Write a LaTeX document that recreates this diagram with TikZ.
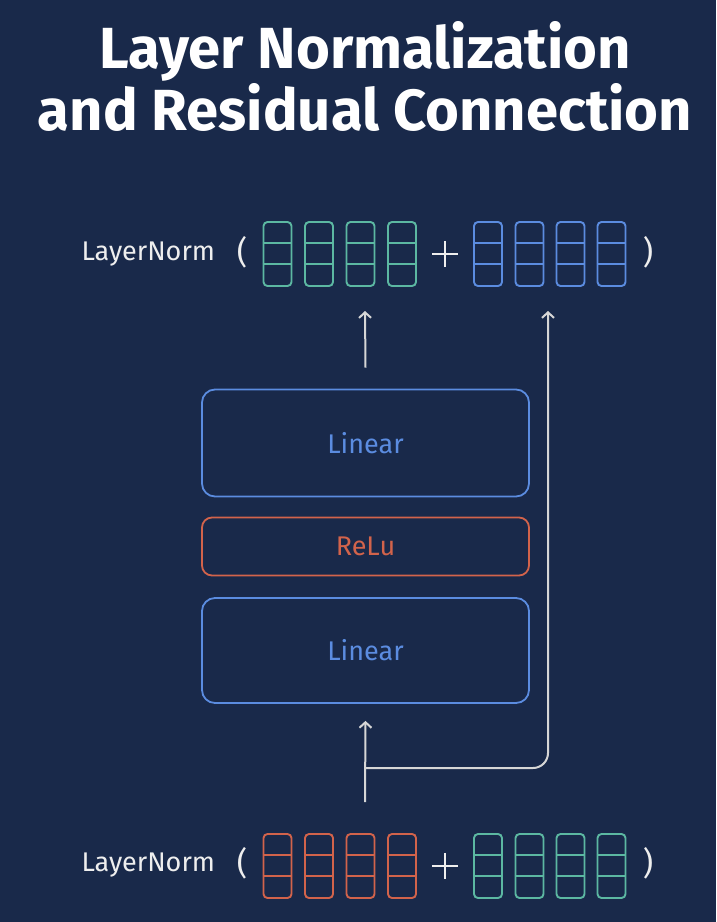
\documentclass[tikz,border=0pt]{standalone}
\usepackage{fontspec}
\setmainfont{Fira Sans}
\usetikzlibrary{arrows.meta}
\definecolor{bg}{HTML}{19294A}
\definecolor{vgreen}{HTML}{5CB8A2}
\definecolor{vblue}{HTML}{5B8CE0}
\definecolor{vorange}{HTML}{D2634B}
\definecolor{txt}{HTML}{EEEEEE}
\definecolor{arr}{HTML}{D6D6D6}
\tikzset{
  titletext/.style={anchor=base, text=white, font=\bfseries\fontsize{58}{64}\selectfont},
  label/.style={text=txt, font=\fontsize{27}{30}\selectfont},
  paren/.style={text=txt, font=\fontsize{32}{36}\selectfont},
  plusnode/.style={minimum size=26pt, inner sep=0pt},
  plusline/.style={draw=txt, line width=1.6pt},
  cell/.style={draw=#1, line width=1.9pt, rounded corners=4pt, minimum width=28pt, minimum height=64pt, inner sep=0pt},
  block/.style={draw=#1, line width=1.8pt, rounded corners=13pt, minimum width=327pt, inner sep=0pt, text=#1, font=\fontsize{27}{30}\selectfont},
  arrowline/.style={draw=arr, line width=2pt, -{Straight Barb[length=5.5pt,width=12pt,line width=2pt]}},
}
\newcommand{\vcell}[4]{% name, x, y, colour
  \node[cell=#4] (#1) at (#2,#3) {};
  \draw[#4, line width=1.9pt] ([yshift=11pt]#1.west) -- ([yshift=11pt]#1.east);
  \draw[#4, line width=1.9pt] ([yshift=-10pt]#1.west) -- ([yshift=-10pt]#1.east);
}
\newcommand{\plussign}[3]{% name, x, y
  \node[plusnode] (#1) at (#2,#3) {};
  \draw[plusline] (#1.west) -- (#1.east);
  \draw[plusline] (#1.north) -- (#1.south);
}
\begin{document}
\begin{tikzpicture}[x=1pt,y=-1pt]
\fill[bg] (0,0) rectangle (716,922);
\useasboundingbox (0,0) rectangle (716,922);

% title
\node[titletext] (title1) at (365,68) {Layer Normalization};
\node[titletext] (title2) at (365,130) {and Residual Connection};

% top row
\node[label, anchor=west] (ln1) at (78,254) {LayerNorm};
\node[paren] (lp1) at (242,252) {(};
\vcell{ta1}{277.5}{254}{vgreen}
\vcell{ta2}{319}{254}{vgreen}
\vcell{ta3}{360.5}{254}{vgreen}
\vcell{ta4}{402}{254}{vgreen}
\plussign{plus1}{445}{254}
\vcell{tb1}{488}{254}{vblue}
\vcell{tb2}{529.5}{254}{vblue}
\vcell{tb3}{570.5}{254}{vblue}
\vcell{tb4}{611.5}{254}{vblue}
\node[paren] (rp1) at (648,252) {)};

% bottom row
\node[label, anchor=west] (ln2) at (78,865) {LayerNorm};
\node[paren] (lp2) at (242,863) {(};
\vcell{ba1}{277.5}{866}{vorange}
\vcell{ba2}{319}{866}{vorange}
\vcell{ba3}{360.5}{866}{vorange}
\vcell{ba4}{402}{866}{vorange}
\plussign{plus2}{445}{866}
\vcell{bb1}{488}{866}{vgreen}
\vcell{bb2}{529.5}{866}{vgreen}
\vcell{bb3}{570.5}{866}{vgreen}
\vcell{bb4}{611.5}{866}{vgreen}
\node[paren] (rp2) at (648,863) {)};

% blocks
\node[block=vblue, minimum height=107pt] (lin1) at (365.5,443) {Linear};
\node[block=vorange, minimum height=58pt, rounded corners=10pt] (relu) at (365.5,546.5) {ReLu};
\node[block=vblue, minimum height=105pt] (lin2) at (365.5,650.5) {Linear};

% connectors
\coordinate (bot) at (365,802);
\coordinate (split) at (365,768);
\coordinate (rtop) at (548,311);
\coordinate (ltop) at (365,311);
\draw[arrowline] (bot) -- ([yshift=-17pt]lin2.south);
\draw[arrowline, rounded corners=15pt] (split) -- (rtop |- split) -- (rtop);
\draw[arrowline] (lin1.north) ++(0,-21) -- (ltop);
\end{tikzpicture}
\end{document}
